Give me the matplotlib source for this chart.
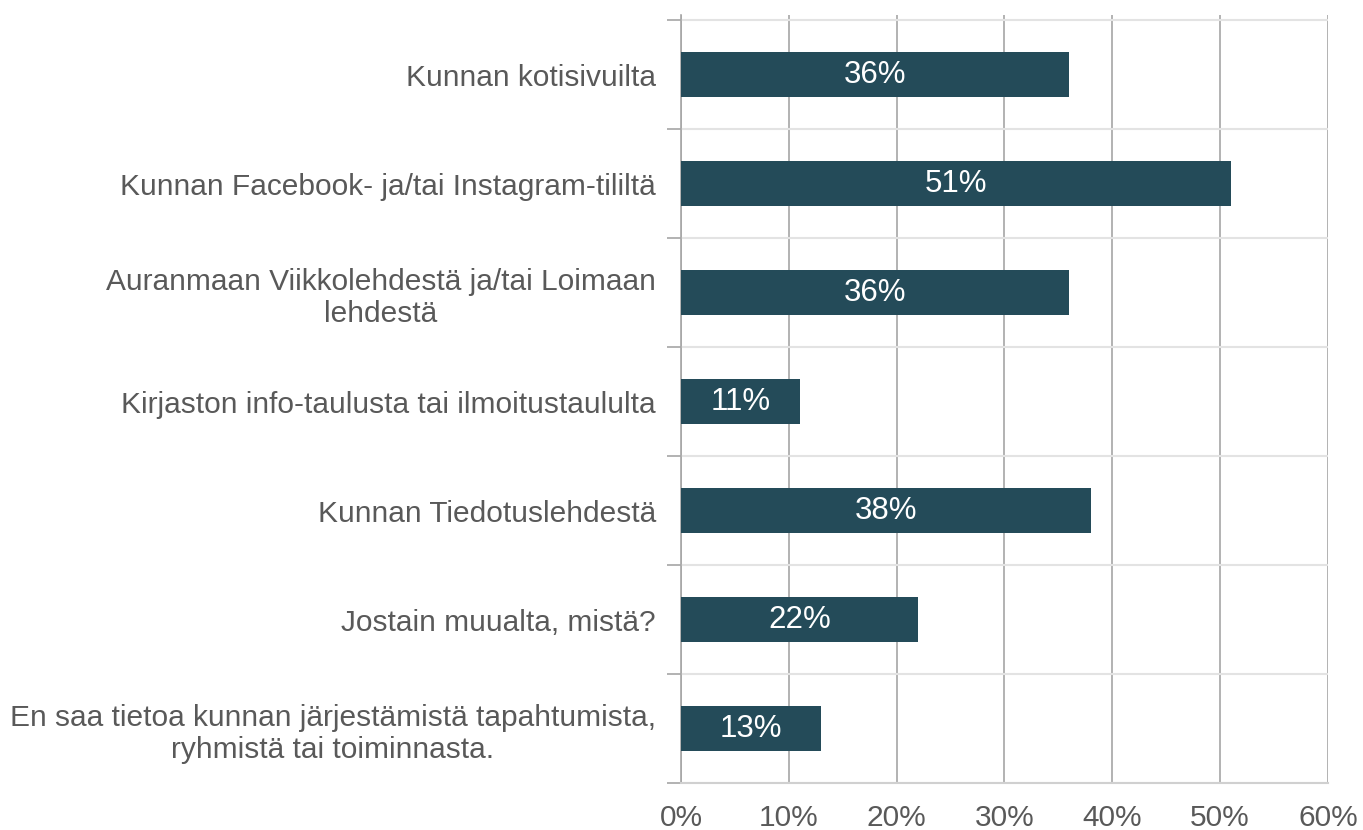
import matplotlib.pyplot as plt
from matplotlib.ticker import FixedLocator

plt.rcParams['font.family'] = ['Liberation Sans', 'DejaVu Sans']

categories = [
    "Kunnan kotisivuilta",
    "Kunnan Facebook- ja/tai Instagram-tililtä",
    "Auranmaan Viikkolehdestä ja/tai Loimaan\nlehdestä",
    "Kirjaston info-taulusta tai ilmoitustaululta",
    "Kunnan Tiedotuslehdestä",
    "Jostain muualta, mistä?",
    "En saa tietoa kunnan järjestämistä tapahtumista,\nryhmistä tai toiminnasta.",
]
values = [36, 51, 36, 11, 38, 22, 13]
xticks = [0, 10, 20, 30, 40, 50, 60]

bar_color = '#244B59'
text_gray = '#595959'

fig = plt.figure(figsize=(13.63, 8.3), dpi=100)
ax = fig.add_axes([0.4996, 0.0566, 0.4747, 0.9253])

y = list(range(len(categories)))
ax.barh(y, values, height=0.41, color=bar_color, zorder=3)
for yi, v in zip(y, values):
    ax.text(v / 2, yi, f"{v}%", ha='center', va='center', color='white',
            fontsize=22.5, zorder=4)

ax.set_xlim(0, 60)
ax.set_ylim(len(categories) - 0.5, -0.5 - 0.046)
ax.set_xticks(xticks)
ax.set_xticklabels([f"{t}%" for t in xticks], fontsize=21.5, color=text_gray)
ax.tick_params(axis='x', length=0, pad=15)

ax.set_yticks(y)
ax.set_yticklabels(categories, fontsize=21.5, color=text_gray, ha='right',
                   multialignment='center', linespacing=1.2)
ax.tick_params(axis='y', which='major', length=0, pad=18)
ax.yaxis.set_minor_locator(FixedLocator([i - 0.5 for i in range(len(categories) + 1)]))
ax.tick_params(axis='y', which='minor', length=10, color='#A6A6A6', width=1.2)

ax.grid(axis='x', color='#A6A6A6', linewidth=1.2, zorder=1)
ax.grid(axis='y', which='minor', color='#E3E3E3', linewidth=1.5, zorder=1)

for s in ['top', 'right']:
    ax.spines[s].set_visible(False)
ax.spines['left'].set_color('#A6A6A6')
ax.spines['left'].set_linewidth(1.2)
ax.spines['bottom'].set_color('#D0D0D0')
ax.spines['bottom'].set_linewidth(1.5)

fig.savefig('out.png', dpi=100)
